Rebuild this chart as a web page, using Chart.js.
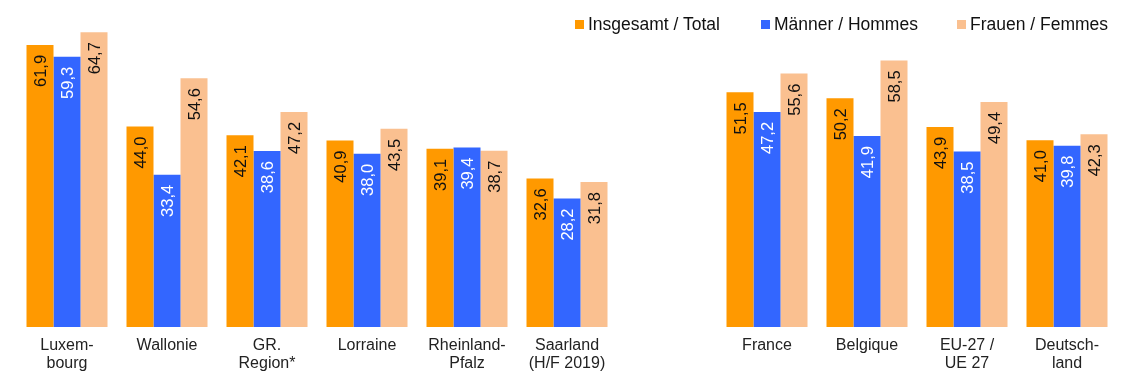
<!DOCTYPE html>
<html>
<head>
<meta charset="utf-8">
<script src="https://cdn.jsdelivr.net/npm/chart.js@4.4.1/dist/chart.umd.min.js"></script>
<style>
  body { margin: 0; background: #fff; }
  #wrap { position: relative; width: 1140px; height: 384px; }
  #legend { position: absolute; top: 14px; left: 575px; font-family: "Liberation Sans", Arial, sans-serif; font-size: 17.5px; color: #111; white-space: nowrap; }
  #legend span.item { position: absolute; top: 0; }
  #legend i { display: inline-block; width: 9px; height: 9px; margin-right: 4px; vertical-align: 1px; }
</style>
</head>
<body>
<div id="wrap">
  <canvas id="mycanvas"></canvas>
  <div id="legend"></div>
</div>
<script>
var categories = [["Luxem-", "bourg"], "Wallonie", ["GR.", "Region*"], "Lorraine", ["Rheinland-", "Pfalz"], ["Saarland", "(H/F 2019)"], "", "France", "Belgique", ["EU-27 /", "UE 27"], ["Deutsch-", "land"]];
var total = [61.9, 44.0, 42.1, 40.9, 39.1, 32.6, null, 51.5, 50.2, 43.9, 41.0];
var maenner = [59.3, 33.4, 38.6, 38.0, 39.4, 28.2, null, 47.2, 41.9, 38.5, 39.8];
var frauen = [64.7, 54.6, 47.2, 43.5, 38.7, 31.8, null, 55.6, 58.5, 49.4, 42.3];
var seriesNames = ["Insgesamt / Total", "Männer / Hommes", "Frauen / Femmes"];
var colors = ["#ff9900", "#3366ff", "#fac090"];
var labelColors = ["#111", "#fff", "#111"];

// legend as html, placed top right
var legendPos = [0, 186, 382];
var legend = document.getElementById("legend");
for (var i = 0; i < seriesNames.length; i++) {
	var s = document.createElement("span");
	s.className = "item";
	s.style.left = legendPos[i] + "px";
	s.innerHTML = '<i style="background:' + colors[i] + '"></i>' + seriesNames[i];
	legend.appendChild(s);
}

// rotated value labels inside the bars
var valueLabels = {
	id: "valueLabels",
	afterDatasetsDraw: function(chart) {
		var ctx = chart.ctx;
		ctx.save();
		ctx.font = "16.5px 'Liberation Sans', Arial, sans-serif";
		ctx.textAlign = "right";
		ctx.textBaseline = "middle";
		chart.data.datasets.forEach(function(ds, di) {
			var meta = chart.getDatasetMeta(di);
			meta.data.forEach(function(bar, j) {
				var v = ds.data[j];
				if (v === null) return;
				ctx.save();
				ctx.translate(bar.x, bar.y + 10);
				ctx.rotate(-Math.PI / 2);
				ctx.fillStyle = labelColors[di];
				ctx.fillText(v.toFixed(1).replace(".", ","), 0, 1);
				ctx.restore();
			});
		});
		ctx.restore();
	}
};

var chartdata = {
	labels: categories,
	datasets: [
		{ label: seriesNames[0], data: total, backgroundColor: colors[0] },
		{ label: seriesNames[1], data: maenner, backgroundColor: colors[1] },
		{ label: seriesNames[2], data: frauen, backgroundColor: colors[2] }
	]
};

var ctx = document.getElementById("mycanvas");
var BarGraph = new Chart(ctx, {
	type: "bar",
	data: chartdata,
	plugins: [valueLabels],
	options: {
		responsive: true,
		maintainAspectRatio: false,
		animation: false,
		layout: { padding: { top: 8, left: 17, right: 23, bottom: 0 } },
		datasets: { bar: { categoryPercentage: 0.81, barPercentage: 1 } },
		plugins: { legend: { display: false }, tooltip: { enabled: false } },
		scales: {
			x: {
				grid: { display: false, drawTicks: false },
				border: { display: false },
				ticks: {
					color: "#222",
					padding: 9,
					maxRotation: 0,
					autoSkip: false,
					font: { family: "'Liberation Sans', Arial, sans-serif", size: 16, lineHeight: 1.15 }
				},
				afterFit: function(scale) { scale.height = 57; }
			},
			y: { display: false, min: 0, max: 70 }
		}
	}
});
</script>
</body>
</html>
